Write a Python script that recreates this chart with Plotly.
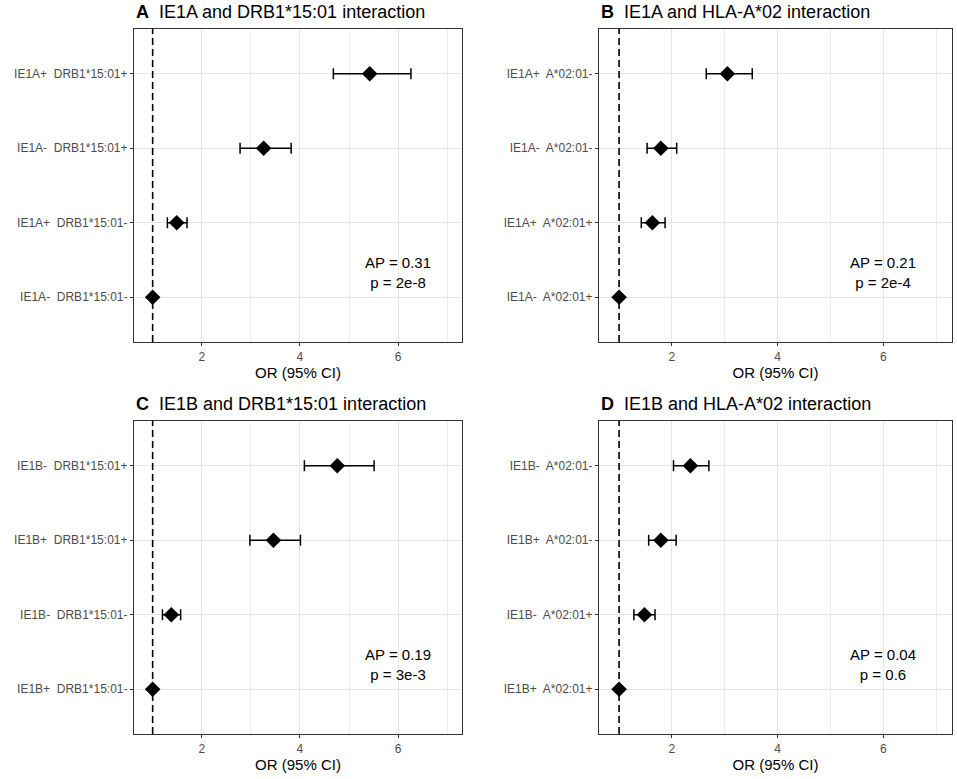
import plotly.graph_objects as go

# panel titles
PANEL_LETTERS = ["A", "B", "C", "D"]
PANEL_TITLES = [
    "IE1A and DRB1*15:01 interaction",
    "IE1A and HLA-A*02 interaction",
    "IE1B and DRB1*15:01 interaction",
    "IE1B and HLA-A*02 interaction",
]

# groups, listed top to bottom
LABELS_A = ["IE1A+  DRB1*15:01+", "IE1A-  DRB1*15:01+", "IE1A+  DRB1*15:01-", "IE1A-  DRB1*15:01-"]
LABELS_B = ["IE1A+  A*02:01-", "IE1A-  A*02:01-", "IE1A+  A*02:01+", "IE1A-  A*02:01+"]
LABELS_C = ["IE1B-  DRB1*15:01+", "IE1B+  DRB1*15:01+", "IE1B-  DRB1*15:01-", "IE1B+  DRB1*15:01-"]
LABELS_D = ["IE1B-  A*02:01-", "IE1B+  A*02:01-", "IE1B-  A*02:01+", "IE1B+  A*02:01+"]

# odds ratios with 95% CI
OR_A = [5.42, 3.26, 1.49, 1.0]
LO_A = [4.68, 2.78, 1.30, 1.0]
HI_A = [6.26, 3.82, 1.70, 1.0]

OR_B = [3.05, 1.79, 1.63, 1.0]
LO_B = [2.65, 1.53, 1.42, 1.0]
HI_B = [3.52, 2.09, 1.87, 1.0]

OR_C = [4.76, 3.46, 1.38, 1.0]
LO_C = [4.09, 2.98, 1.20, 1.0]
HI_C = [5.51, 4.01, 1.57, 1.0]

OR_D = [2.35, 1.79, 1.48, 1.0]
LO_D = [2.03, 1.56, 1.28, 1.0]
HI_D = [2.70, 2.08, 1.68, 1.0]

AP_VALUES = ["0.31", "0.21", "0.19", "0.04"]
P_VALUES = ["2e-8", "2e-4", "3e-3", "0.6"]

REF_OR = 1.0
XTICKS = [2, 4, 6]

panels = [
    (LABELS_A, OR_A, LO_A, HI_A),
    (LABELS_B, OR_B, LO_B, HI_B),
    (LABELS_C, OR_C, LO_C, HI_C),
    (LABELS_D, OR_D, LO_D, HI_D),
]

W, H = 957, 779
# plot areas in pixels: (left, right, top, bottom)
boxes = [
    (134, 462, 29, 342),
    (599, 952, 29, 342),
    (134, 462, 421, 734),
    (599, 952, 421, 734),
]

FONT = "Liberation Sans, Arial, sans-serif"
fig = go.Figure()
annotations = []
shapes = []

for i, (labels, orv, lo, hi) in enumerate(panels):
    n = "" if i == 0 else str(i + 1)
    xa, ya = "x" + n, "y" + n
    left, right, top, bottom = boxes[i]
    labels_nb = [s.replace("  ", "\u00a0 ") for s in labels]

    fig.add_trace(
        go.Scatter(
            x=orv,
            y=labels_nb,
            mode="markers",
            marker=dict(symbol="diamond", size=12, color="black"),
            error_x=dict(
                type="data",
                symmetric=False,
                array=[h - o for h, o in zip(hi, orv)],
                arrayminus=[o - l for o, l in zip(orv, lo)],
                color="black",
                thickness=1.5,
                width=5.5,
            ),
            xaxis=xa,
            yaxis=ya,
            showlegend=False,
            hoverinfo="x+y",
        )
    )

    axis_common = dict(
        showline=True,
        mirror=True,
        linecolor="#333333",
        linewidth=1.2,
        ticks="outside",
        ticklen=3,
        tickcolor="#333333",
        tickfont=dict(family=FONT, size=12, color="#4d4d4d"),
        gridcolor="#e6e6e6",
        gridwidth=1.2,
        zeroline=False,
    )
    fig.layout["xaxis" + n] = dict(
        axis_common,
        domain=[left / W, right / W],
        anchor=ya,
        range=[0.62, 7.3],
        tickvals=XTICKS,
        minor=dict(dtick=1, tick0=1, showgrid=True, gridcolor="#ececec", gridwidth=0.7),
        title=dict(text="OR (95% CI)", font=dict(family=FONT, size=15, color="black"), standoff=4),
    )
    fig.layout["yaxis" + n] = dict(
        axis_common,
        domain=[1 - bottom / H, 1 - top / H],
        anchor=xa,
        type="category",
        categoryarray=labels_nb[::-1],
        range=[-0.6, 3.6],
    )

    shapes.append(
        dict(
            type="line",
            xref=xa,
            yref=ya + " domain",
            x0=REF_OR,
            x1=REF_OR,
            y0=0,
            y1=1,
            line=dict(color="black", width=1.6, dash="7px,4px"),
            layer="above",
        )
    )

    annotations.append(
        dict(
            text="<b>" + PANEL_LETTERS[i] + "</b>\u00a0 " + PANEL_TITLES[i],
            xref="paper",
            yref="paper",
            x=left / W,
            y=1 - (top - 5) / H,
            xanchor="left",
            yanchor="bottom",
            showarrow=False,
            font=dict(family=FONT, size=18, color="black"),
        )
    )
    annotations.append(
        dict(
            text="AP = " + AP_VALUES[i] + "<br>p = " + P_VALUES[i],
            xref=xa,
            yref=ya,
            x=6,
            y=0.33,
            showarrow=False,
            align="center",
            font=dict(family=FONT, size=15, color="black"),
        )
    )

fig.update_layout(
    width=W,
    height=H,
    margin=dict(l=0, r=0, t=0, b=0),
    paper_bgcolor="white",
    plot_bgcolor="white",
    annotations=annotations,
    shapes=shapes,
    font=dict(family=FONT),
)

fig.write_html(
    "out.html",
    config={"displayModeBar": False},
    post_script="document.body.style.margin='0';",
)
